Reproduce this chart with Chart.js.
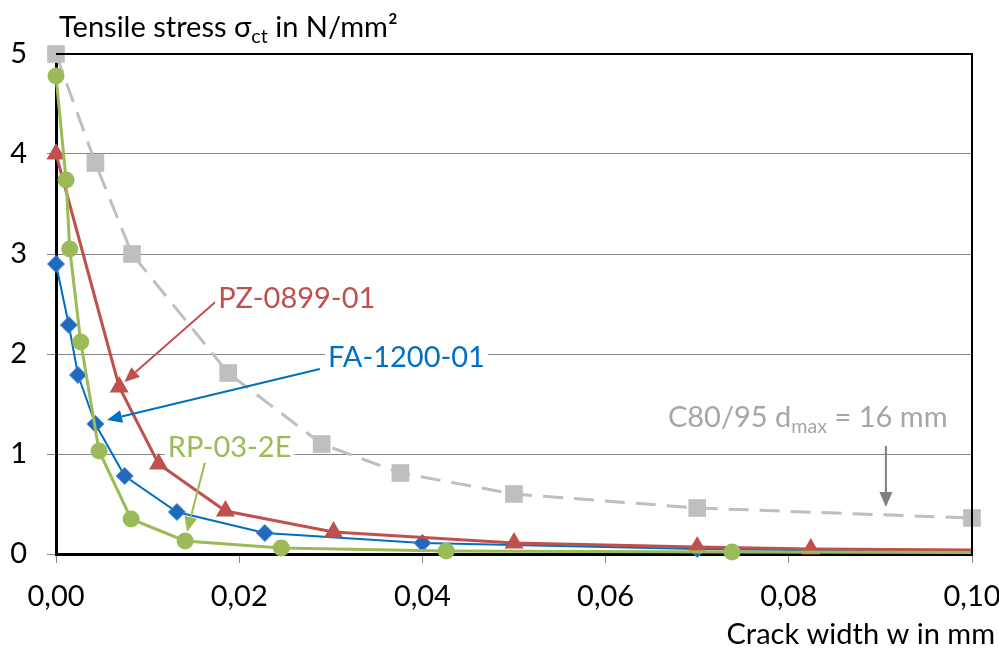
<!DOCTYPE html>
<html>
<head>
<meta charset="utf-8">
<script src="https://cdn.jsdelivr.net/npm/chart.js@4.4.0/dist/chart.umd.min.js"></script>
<style>
html, body { margin: 0; padding: 0; background: #fff; }
</style>
</head>
<body>
<canvas id="myChart" width="999" height="650"></canvas>
<script>
/*---------------------------- data ------------------------------------*/
// crack width w (mm) / tensile stress (N/mm²)
var grayX  = [0, 0.0043, 0.0083, 0.0188, 0.0290, 0.0376, 0.0500, 0.0700, 0.1000];
var grayY  = [5.00, 3.91, 3.00, 1.81, 1.10, 0.81, 0.60, 0.46, 0.36];
var redX   = [0, 0.0069, 0.0112, 0.0185, 0.0303, 0.0500, 0.0700, 0.0824, 0.1000];
var redY   = [4.00, 1.67, 0.90, 0.43, 0.22, 0.11, 0.07, 0.05, 0.04];
var blueX  = [0, 0.0014, 0.0024, 0.0043, 0.0075, 0.0132, 0.0228, 0.0400, 0.0700, 0.1000];
var blueY  = [2.90, 2.29, 1.79, 1.30, 0.78, 0.42, 0.21, 0.11, 0.05, 0.02];
var greenX = [0, 0.0011, 0.0015, 0.0027, 0.0047, 0.0082, 0.0141, 0.0246, 0.0426, 0.0738, 0.1000];
var greenY = [4.78, 3.74, 3.05, 2.12, 1.03, 0.35, 0.13, 0.06, 0.03, 0.02, 0.015];

var xTicks = [0, 0.02, 0.04, 0.06, 0.08, 0.10];
var yTicks = [0, 1, 2, 3, 4, 5];

function pts(xs, ys) {
  return xs.map(function (x, i) { return {x: x, y: ys[i]}; });
}
// last point of the measured curves only carries the line on to the axis end
function tailless(r) {
  return function (ctx) {
    return ctx.dataIndex === ctx.dataset.data.length - 1 ? 0 : r;
  };
}

var FONT = "Lato, 'Open Sans', sans-serif";
var FS = 29;

/*---------------------------- labels + frame ------------------------------------*/
function arrow(ctx, x1, y1, x2, y2, color, lw) {
  var a = Math.atan2(y2 - y1, x2 - x1);
  var hl = 15, hw = 6.5;
  var bx = x2 - Math.cos(a) * hl, by = y2 - Math.sin(a) * hl;
  ctx.strokeStyle = color;
  ctx.fillStyle = color;
  ctx.lineWidth = lw;
  ctx.beginPath();
  ctx.moveTo(x1, y1);
  ctx.lineTo(bx, by);
  ctx.stroke();
  ctx.beginPath();
  ctx.moveTo(x2, y2);
  ctx.lineTo(bx + Math.sin(a) * hw, by - Math.cos(a) * hw);
  ctx.lineTo(bx - Math.sin(a) * hw, by + Math.cos(a) * hw);
  ctx.closePath();
  ctx.fill();
}

// text made of [string, isSubscript] parts
function richText(ctx, parts, x, y, size, color, bg) {
  var w = 0;
  parts.forEach(function (p) {
    ctx.font = (p[1] ? size * 0.68 : size) + "px " + FONT;
    w += ctx.measureText(p[0]).width;
  });
  if (bg) {
    ctx.fillStyle = "#fff";
    ctx.fillRect(x - 3, y - size * 0.8, w + 6, size * 1.0);
  }
  ctx.fillStyle = color;
  ctx.textBaseline = "alphabetic";
  ctx.textAlign = "left";
  parts.forEach(function (p) {
    ctx.font = (p[1] ? size * 0.68 : size) + "px " + FONT;
    ctx.fillText(p[0], x, p[1] ? y + size * 0.22 : y);
    x += ctx.measureText(p[0]).width;
  });
}

var notes = [
  {text: [["PZ-0899-01", false]], color: "#C0504D", at: [0.0177, 2.46], from: [0.0174, 2.52], to: [0.00746, 1.72]},
  {text: [["FA-1200-01", false]], color: "#0070C0", at: [0.0297, 1.87], from: [0.0288, 1.85], to: [0.00557, 1.34]},
  {text: [["RP-03-2E", false]], color: "#9BBB59", at: [0.0122, 0.97], from: [0.0163, 0.93], to: [0.0143, 0.22]},
  {text: [["C80/95 d", false], ["max", true], [" = 16 mm", false]], color: "#A6A6A6", arrowColor: "#7F7F7F",
   at: [0.0668, 1.27], from: [0.0906, 1.08], to: [0.0906, 0.47]}
];

var framePlugin = {
  id: "frame",
  afterDatasetsDraw: function (chart) {
    var ctx = chart.ctx, a = chart.chartArea;
    var sx = chart.scales.x, sy = chart.scales.y;
    ctx.save();
    notes.forEach(function (n) {
      arrow(ctx, sx.getPixelForValue(n.from[0]), sy.getPixelForValue(n.from[1]),
            sx.getPixelForValue(n.to[0]), sy.getPixelForValue(n.to[1]), n.arrowColor || n.color, 2);
    });
    notes.forEach(function (n) {
      richText(ctx, n.text, sx.getPixelForValue(n.at[0]), sy.getPixelForValue(n.at[1]), FS, n.color, true);
    });
    // top and right edges of the plot box
    ctx.strokeStyle = "#000";
    ctx.lineWidth = 2;
    ctx.beginPath();
    ctx.moveTo(a.left, a.top);
    ctx.lineTo(a.right, a.top);
    ctx.lineTo(a.right, a.bottom);
    ctx.stroke();
    // axis titles
    richText(ctx, [["Tensile stress ", false], ["\u03c3", false], ["ct", true], [" in N/mm\u00b2", false]], 59, 37, FS, "#000", false);
    ctx.font = FS + "px " + FONT;
    var t = "Crack width w in mm";
    richText(ctx, [[t, false]], 995 - ctx.measureText(t).width, 644, FS, "#000", false);
    ctx.restore();
  }
};

/*---------------------------- chart ------------------------------------*/
new Chart("myChart", {
  type: "scatter",
  data: {
    datasets: [{
      label: "RP-03-2E",
      data: pts(greenX, greenY),
      showLine: true,
      borderColor: "#9BBB59",
      backgroundColor: "#9BBB59",
      borderWidth: 3,
      pointStyle: "circle",
      pointRadius: tailless(8.5),
      pointBorderWidth: 0,
      clip: false,
      order: 0
    }, {
      label: "PZ-0899-01",
      data: pts(redX, redY),
      showLine: true,
      borderColor: "#C0504D",
      backgroundColor: "#C0504D",
      borderWidth: 3,
      pointStyle: "triangle",
      pointRadius: tailless(11),
      pointBorderWidth: 0,
      clip: false,
      order: 1
    }, {
      label: "FA-1200-01",
      data: pts(blueX, blueY),
      showLine: true,
      borderColor: "#0070C0",
      backgroundColor: "#1F69BE",
      pointBorderColor: "#4A86CF",
      borderWidth: 2,
      pointStyle: "rectRot",
      pointRadius: tailless(8.5),
      pointBorderWidth: 1,
      clip: false,
      order: 2
    }, {
      label: "C80/95",
      data: pts(grayX, grayY),
      showLine: true,
      borderColor: "#BFBFBF",
      backgroundColor: "#BFBFBF",
      borderWidth: 3,
      borderDash: [20, 11],
      pointStyle: "rect",
      pointRadius: 12.5,
      pointBorderWidth: 0,
      clip: false,
      order: 3
    }]
  },
  options: {
    responsive: false,
    animation: false,
    layout: {padding: {top: 54, right: 27, left: 0, bottom: 0}},
    plugins: {
      legend: {display: false},
      tooltip: {enabled: false}
    },
    scales: {
      x: {
        type: "linear",
        min: 0,
        max: 0.1,
        afterFit: function (s) { s.height = 96; s.paddingRight = 0; s.paddingLeft = 0; },
        afterBuildTicks: function (s) { s.ticks = xTicks.map(function (v) { return {value: v}; }); },
        ticks: {
          color: "#000",
          font: {family: FONT, size: FS},
          padding: 16,
          maxRotation: 0,
          callback: function (v) { return v.toFixed(2).replace(".", ","); }
        },
        grid: {drawOnChartArea: false, drawTicks: true, tickLength: 9, color: "#868686"},
        border: {color: "#000", width: 3}
      },
      y: {
        min: 0,
        max: 5,
        afterFit: function (s) { s.width = 56; s.paddingTop = 0; s.paddingBottom = 0; },
        afterBuildTicks: function (s) { s.ticks = yTicks.map(function (v) { return {value: v}; }); },
        ticks: {
          color: "#000",
          font: {family: FONT, size: FS},
          padding: 20
        },
        grid: {color: "#868686", lineWidth: 1, tickLength: 9},
        border: {color: "#000", width: 3}
      }
    }
  },
  plugins: [framePlugin]
});
</script>
</body>
</html>
